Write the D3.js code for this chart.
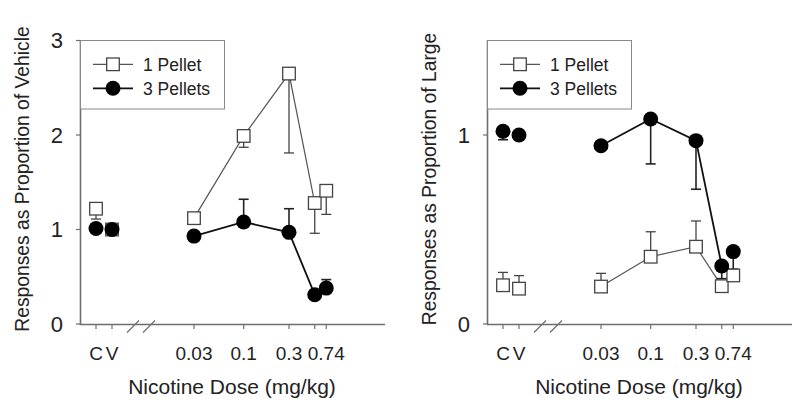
<!DOCTYPE html>
<html>
<head>
<meta charset="utf-8">
<script src="https://cdn.jsdelivr.net/npm/d3@7"></script>
<style>
  html, body { margin: 0; padding: 0; background: #fff; }
  svg { display: block; font-family: "Liberation Sans", Arial, sans-serif; }
</style>
</head>
<body>
<svg id="chart" width="800" height="412"></svg>
<script>
// ---- data ----
const controlLabels = ["C", "V"];
const doses = [0.03, 0.1, 0.3, 0.56, 0.74];
const doseTickLabels = ["0.03", "0.1", "0.3", "", "0.74"];
const seriesNames = ["1 Pellet", "3 Pellets"];

// Left panel: proportion of vehicle
const vehYTicks = [0, 1, 2, 3];
const vehOnePelletCtrl = [1.22, 1.0];
const vehOnePelletCtrlErr = [1.11, null];
const vehOnePelletDose = [1.12, 1.99, 2.65, 1.28, 1.41];
const vehOnePelletDoseErr = [null, 1.87, 1.81, 0.96, 1.16];
const vehThreePelletCtrl = [1.01, 1.0];
const vehThreePelletCtrlErr = [null, null];
const vehThreePelletDose = [0.93, 1.08, 0.97, 0.31, 0.38];
const vehThreePelletDoseErr = [null, 1.32, 1.22, null, 0.47];

// Right panel: proportion of large
const largeYTicks = [0, 1];
const largeOnePelletCtrl = [0.205, 0.187];
const largeOnePelletCtrlErr = [0.273, 0.256];
const largeOnePelletDose = [0.198, 0.356, 0.409, 0.20, 0.257];
const largeOnePelletDoseErr = [0.268, 0.488, 0.545, null, null];
const largeThreePelletCtrl = [1.02, 1.0];
const largeThreePelletCtrlErr = [0.975, null];
const largeThreePelletDose = [0.943, 1.085, 0.97, 0.307, 0.383];
const largeThreePelletDoseErr = [null, 0.847, 0.713, 0.24, 0.29];

const panels = [
  { dx: 0, yTitle: "Responses as Proportion of Vehicle", yMax: 3, yTicks: vehYTicks,
    one: [vehOnePelletCtrl, vehOnePelletCtrlErr, vehOnePelletDose, vehOnePelletDoseErr],
    three: [vehThreePelletCtrl, vehThreePelletCtrlErr, vehThreePelletDose, vehThreePelletDoseErr] },
  { dx: 407, yTitle: "Responses as Proportion of Large", yMax: 1.5, yTicks: largeYTicks,
    one: [largeOnePelletCtrl, largeOnePelletCtrlErr, largeOnePelletDose, largeOnePelletDoseErr],
    three: [largeThreePelletCtrl, largeThreePelletCtrlErr, largeThreePelletDose, largeThreePelletDoseErr] }
];

const svg = d3.select("#chart");
const axisColor = "#6e6e6e";
const y0 = 324, yTop = 40.5, xLeft = 80.5, xRight = 385;

panels.forEach(p => {
  const g = svg.append("g").attr("transform", `translate(${p.dx},0)`);
  const y = d3.scaleLinear().domain([0, p.yMax]).range([y0, yTop]);
  const xDose = d3.scaleLog().domain([0.03, 0.74]).range([194, 194 + 95 * Math.log10(0.74 / 0.03)]);
  const xCtrl = d3.scalePoint().domain(controlLabels).range([96, 112]);

  // axes lines
  g.append("line").attr("x1", xLeft).attr("x2", xLeft).attr("y1", yTop).attr("y2", y0 + 0.5)
    .attr("stroke", axisColor).attr("stroke-width", 1.6);
  g.append("line").attr("x1", xLeft - 0.8).attr("x2", xRight).attr("y1", y0 + 0.5).attr("y2", y0 + 0.5)
    .attr("stroke", axisColor).attr("stroke-width", 1.6);

  // y ticks
  const yt = g.append("g");
  p.yTicks.forEach(t => {
    yt.append("line").attr("x1", xLeft - 4.5).attr("x2", xLeft).attr("y1", y(t)).attr("y2", y(t))
      .attr("stroke", axisColor).attr("stroke-width", 1.2);
    yt.append("text").attr("x", 63).attr("y", y(t)).attr("dy", "0.36em")
      .attr("text-anchor", "end").attr("font-size", 22).attr("fill", "#222").text(t);
  });

  // x ticks
  const ticks = controlLabels.map(c => ({ x: xCtrl(c), label: c }))
    .concat(doses.map((d, i) => ({ x: xDose(d), label: doseTickLabels[i] })));
  ticks.forEach(t => {
    g.append("line").attr("x1", t.x).attr("x2", t.x).attr("y1", y0 + 0.5).attr("y2", y0 + 5)
      .attr("stroke", axisColor).attr("stroke-width", 1.2);
    if (t.label) g.append("text").attr("x", t.x).attr("y", 360).attr("text-anchor", "middle")
      .attr("font-size", 19).attr("fill", "#222").text(t.label);
  });

  // axis break slashes
  [127, 143].forEach(bx => {
    g.append("line").attr("x1", bx).attr("y1", 332.5).attr("x2", bx + 12).attr("y2", 320.5)
      .attr("stroke", axisColor).attr("stroke-width", 1.2);
  });

  // titles
  g.append("text").attr("transform", `translate(29,${179}) rotate(-90)`)
    .attr("text-anchor", "middle").attr("font-size", 19.3).attr("fill", "#222").text(p.yTitle);
  g.append("text").attr("x", 232).attr("y", 394).attr("text-anchor", "middle")
    .attr("font-size", 21).attr("fill", "#222").text("Nicotine Dose (mg/kg)");

  // legend
  const lg = g.append("g");
  lg.append("rect").attr("x", xLeft).attr("y", yTop).attr("width", 144).attr("height", 68.5)
    .attr("fill", "#fff").attr("stroke", "#888").attr("stroke-width", 1);
  [64.3, 88.3].forEach((ly, i) => {
    lg.append("line").attr("x1", 93).attr("x2", 133).attr("y1", ly).attr("y2", ly)
      .attr("stroke", i === 0 ? "#555" : "#111").attr("stroke-width", i === 0 ? 1.2 : 1.8);
    if (i === 0) lg.append("rect").attr("x", 113 - 6.3).attr("y", ly - 6.3).attr("width", 12.6).attr("height", 12.6)
      .attr("fill", "#fff").attr("stroke", "#444").attr("stroke-width", 1.3);
    else lg.append("circle").attr("cx", 113).attr("cy", ly).attr("r", 7.5).attr("fill", "#000");
    lg.append("text").attr("x", 143).attr("y", ly).attr("dy", "0.36em").attr("font-size", 17.5)
      .attr("fill", "#222").text(seriesNames[i]);
  });

  // build points
  function pts(s) {
    const [cv, ce, dv, de] = s;
    return controlLabels.map((c, i) => ({ x: xCtrl(c), v: cv[i], e: ce[i], ctrl: true }))
      .concat(doses.map((d, i) => ({ x: xDose(d), v: dv[i], e: de[i], ctrl: false })));
  }
  const one = pts(p.one), three = pts(p.three);
  const line = d3.line().x(d => d.x).y(d => y(d.v));

  function drawErr(arr, color, w) {
    arr.filter(d => d.e != null).forEach(d => {
      g.append("line").attr("x1", d.x).attr("x2", d.x).attr("y1", y(d.v)).attr("y2", y(d.e))
        .attr("stroke", color).attr("stroke-width", w);
      g.append("line").attr("x1", d.x - 5).attr("x2", d.x + 5).attr("y1", y(d.e)).attr("y2", y(d.e))
        .attr("stroke", color).attr("stroke-width", w);
    });
  }

  const oneLineData = one.filter(d => !d.ctrl).slice(0, 4);
  const threeLineData = three.filter(d => !d.ctrl).slice(0, 4);
  g.append("path").attr("d", line(oneLineData)).attr("fill", "none").attr("stroke", "#555").attr("stroke-width", 1.2);
  drawErr(one, "#444", 1.3);
  g.append("path").attr("d", line(threeLineData)).attr("fill", "none").attr("stroke", "#111").attr("stroke-width", 1.8);
  drawErr(three, "#222", 1.6);

  g.selectAll(null).data(one).enter().append("rect")
    .attr("x", d => d.x - 6.3).attr("y", d => y(d.v) - 6.3).attr("width", 12.6).attr("height", 12.6)
    .attr("fill", "#fff").attr("stroke", "#444").attr("stroke-width", 1.3);
  g.selectAll(null).data(three).enter().append("circle")
    .attr("cx", d => d.x).attr("cy", d => y(d.v)).attr("r", 7.5).attr("fill", "#000");
});
</script>
</body>
</html>
